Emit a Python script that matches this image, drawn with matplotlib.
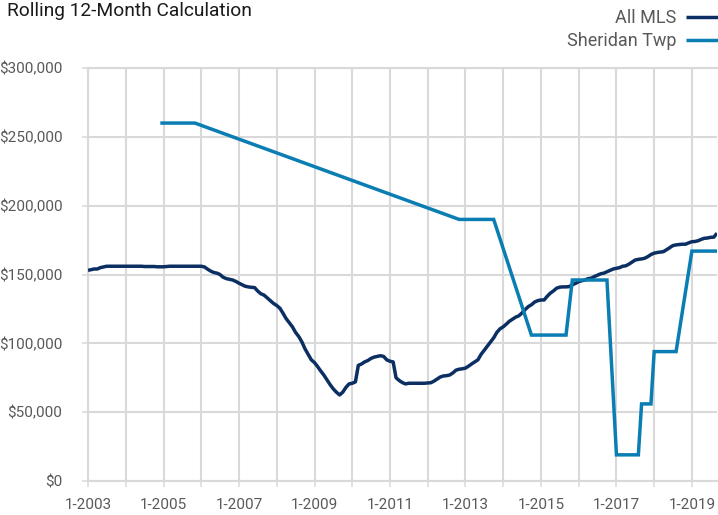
import numpy as np
import pandas as pd
import matplotlib
matplotlib.use("Agg")
import matplotlib.pyplot as plt
import matplotlib.dates as mdates
from matplotlib.ticker import FuncFormatter, FixedLocator

# ---------------- data (values in $ thousands) ----------------
months = pd.date_range("2003-01-01", "2019-09-01", freq="MS")

all_mls_k = [
    153, 153.5, 154, 154, 155, 155.5, 156, 156, 156, 156, 156, 156,              # 2003
    156, 156, 156, 156, 156, 156, 155.8, 155.8, 155.8, 155.8, 155.6, 155.6,      # 2004
    155.6, 155.8, 156, 156, 156, 156, 156, 156, 156, 156, 156, 156,              # 2005
    156, 155.5, 154, 152.5, 151.5, 151, 150, 148, 147, 146.5, 146, 145,          # 2006
    143.7, 142.5, 141.5, 141, 140.7, 140.5, 138, 136, 135, 133, 131, 129,        # 2007
    127.5, 125.5, 122, 118, 115, 112, 108, 105, 101, 96, 92, 88,                 # 2008
    86, 83, 80, 77, 73.5, 70, 67, 64.5, 62.5, 64.5, 68, 70.5,                    # 2009
    71, 72, 84, 85, 86.5, 87.5, 89, 90, 90.5, 91, 90.5, 88,                      # 2010
    87, 86.5, 75, 73, 71.5, 70.5, 71, 71, 71, 71, 71, 71,                        # 2011
    71.2, 71.4, 72.5, 74, 75.5, 76.3, 76.5, 77, 78.5, 80.5, 81.2, 81.5,          # 2012
    82, 83.5, 85, 86.5, 88, 92, 95, 98, 101, 104, 108, 110.5,                    # 2013
    112, 114, 116, 117.5, 119, 120, 122, 124.5, 126.7, 128, 130, 131,            # 2014
    131.5, 131.5, 134, 136.4, 138, 140, 140.8, 141, 141, 141.2, 142.5, 143.5,    # 2015
    144.8, 145.5, 146, 147, 147.3, 148.5, 149.5, 150.5, 151, 152, 153, 154,      # 2016
    154.5, 155, 156, 156.3, 157.5, 159, 160.5, 161, 161.3, 161.8, 163, 164.5,    # 2017
    165.5, 166, 166.3, 166.6, 168, 169.5, 171, 171.5, 171.8, 172, 172, 173,      # 2018
    173.8, 174, 174.5, 175.5, 176.3, 176.5, 177, 177.1, 180,                     # 2019
]

N = None
sheridan_k = [
    N, N, N, N, N, N, N, N, N, N, N, N,                                          # 2003
    N, N, N, N, N, N, N, N, N, N, N, 260,                                        # 2004
    260, 260, 260, 260, 260, 260, 260, 260, 260, 260, 260, N,                    # 2005
    N, N, N, N, N, N, N, N, N, N, N, N,                                          # 2006
    N, N, N, N, N, N, N, N, N, N, N, N,                                          # 2007
    N, N, N, N, N, N, N, N, N, N, N, N,                                          # 2008
    N, N, N, N, N, N, N, N, N, N, N, N,                                          # 2009
    N, N, N, N, N, N, N, N, N, N, N, N,                                          # 2010
    N, N, N, N, N, N, N, N, N, N, N, N,                                          # 2011
    N, N, N, N, N, N, N, N, N, N, 190, 190,                                      # 2012
    190, 190, 190, 190, 190, 190, 190, 190, 190, 190, N, N,                      # 2013
    N, N, N, N, N, N, N, N, N, 106, 106, 106,                                    # 2014
    106, 106, 106, 106, 106, 106, 106, 106, 106, N, 146, 146,                    # 2015
    146, 146, 146, 146, 146, 146, 146, 146, 146, 146, N, N,                      # 2016
    19, 19, 19, 19, 19, 19, 19, 19, 56, 56, 56, 56,                              # 2017
    94, 94, 94, 94, 94, 94, 94, 94, N, N, N, N,                                  # 2018
    167, 167, 167, 167, 167, 167, 167, 167, 167,                                 # 2019
]

series_names = ["All MLS", "Sheridan Twp"]
y_ticks = [0, 50000, 100000, 150000, 200000, 250000, 300000]
label_years = [2003, 2005, 2007, 2009, 2011, 2013, 2015, 2017, 2019]
grid_years = list(range(2003, 2020))
title = "Rolling 12-Month Calculation"

# ---------------- style ----------------
FONT = ["Roboto", "DejaVu Sans"]
plt.rcParams["font.family"] = FONT
DARK = "#0c2f63"
LIGHT = "#0a7db3"
GRID = "#d9d9d9"
TXT = "#595959"

fig = plt.figure(figsize=(7.18, 5.15), dpi=100)
ax = fig.add_axes([88 / 718, 1 - 481 / 515, (717 - 88) / 718, (481 - 68) / 515])

mls = np.array(all_mls_k, dtype=float) * 1000
sh = np.array([np.nan if v is None else v for v in sheridan_k], dtype=float) * 1000
mask = ~np.isnan(sh)

l1, = ax.plot(months, mls, color=DARK, lw=2.5, solid_joinstyle="round",
              solid_capstyle="butt", zorder=3, label=series_names[0])
l2, = ax.plot(months[mask], sh[mask], color=LIGHT, lw=2.5, solid_joinstyle="miter",
              solid_capstyle="butt", zorder=4, label=series_names[1])

ax.set_ylim(0, 300000)
ax.set_xlim(months[0], months[-1])
ax.set_yticks(y_ticks)
ax.yaxis.set_major_formatter(FuncFormatter(lambda v, p: "${:,.0f}".format(v)))

major_pos = [mdates.date2num(pd.Timestamp(year=y, month=1, day=1)) for y in label_years]
minor_pos = [mdates.date2num(pd.Timestamp(year=y, month=1, day=1)) for y in grid_years
             if y not in label_years]
ax.xaxis.set_major_locator(FixedLocator(major_pos))
ax.xaxis.set_minor_locator(FixedLocator(minor_pos))
ax.set_xticklabels(["1-{}".format(y) for y in label_years])

ax.grid(True, which="both", axis="x", color=GRID, lw=1.5, zorder=0)
ax.grid(True, which="major", axis="y", color=GRID, lw=1.5, zorder=0)
ax.set_axisbelow(True)

ax.spines["right"].set_visible(False)
for s in ["left", "top", "bottom"]:
    ax.spines[s].set_color(GRID)
    ax.spines[s].set_linewidth(1.5)

ax.tick_params(axis="both", which="both", direction="out", length=4.5, width=1.1,
               color=GRID, labelcolor=TXT, labelsize=11)
ax.tick_params(axis="x", which="major", pad=8)
ax.tick_params(axis="y", pad=14)

fig.text(7 / 718, 1 - 2 / 515, title, ha="left", va="top", fontsize=13.8, color="#1a1a1a")

fig.legend(handles=[l1, l2], loc="upper right", bbox_to_anchor=(1.0, 1 - 9 / 515),
           frameon=False, markerfirst=False, handlelength=1.75, handletextpad=0.55,
           fontsize=13, labelcolor=TXT, borderaxespad=0.0, borderpad=0.0,
           labelspacing=0.3, alignment="right")

fig.savefig("out.png", dpi=100)
